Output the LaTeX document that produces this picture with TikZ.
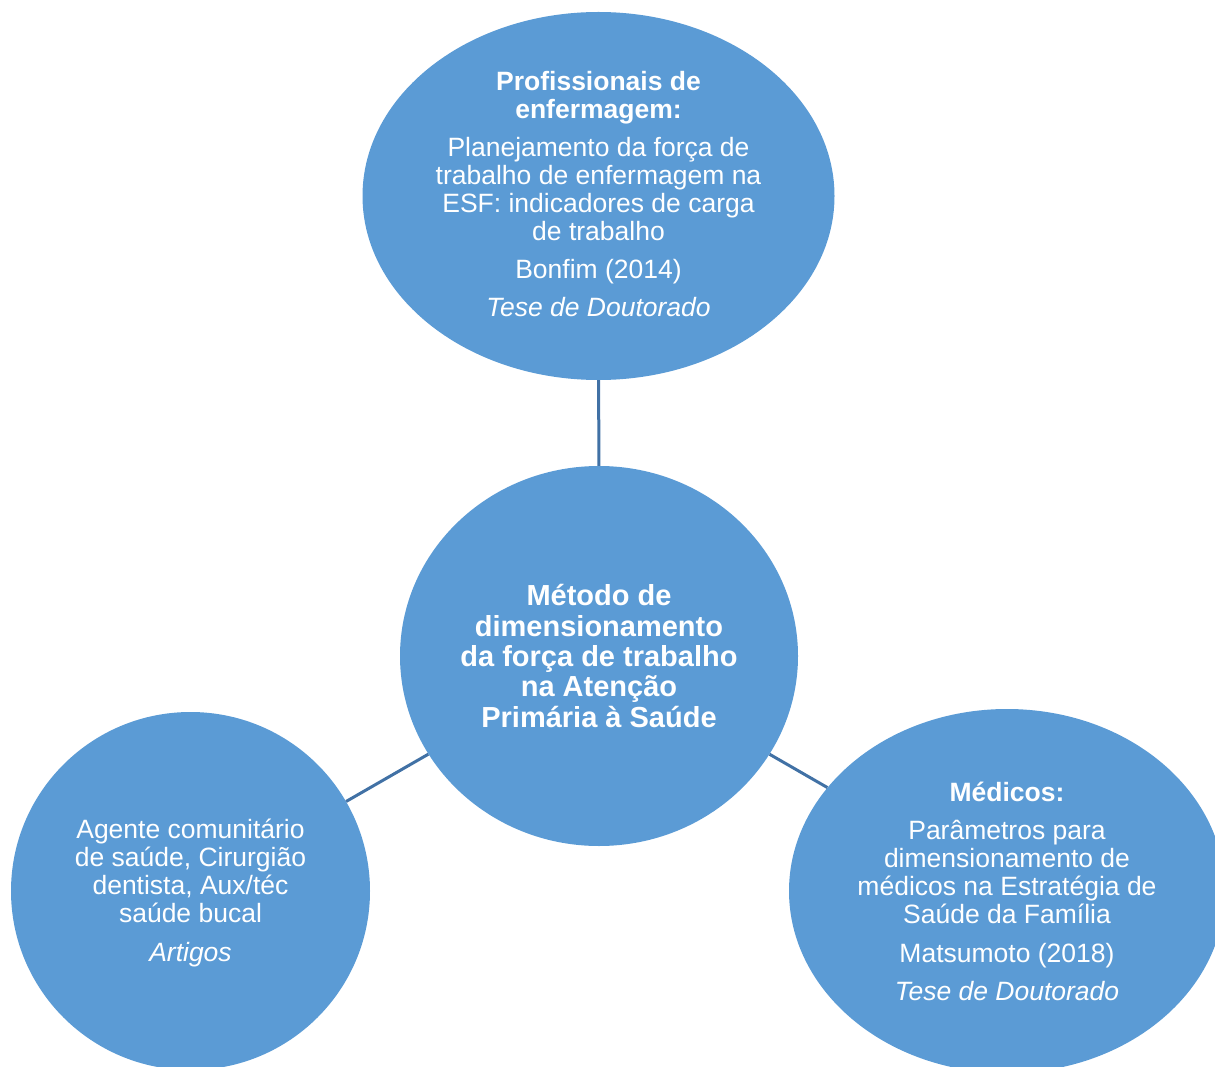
\documentclass[tikz,border=0pt]{standalone}
\usepackage{fontspec}
\setmainfont{Liberation Sans}
\usetikzlibrary{shapes.geometric}
\definecolor{fillblue}{HTML}{5B9BD5}
\definecolor{linkblue}{RGB}{65,113,165}
\begin{document}
\begin{tikzpicture}[x=1pt,y=-1pt,
  bubble/.style={ellipse, fill=fillblue, draw=none, inner sep=0pt, text=white, align=center, font=\fontsize{26.5}{28}\selectfont},
  hubtext/.style={font=\bfseries\fontsize{29}{30.4}\selectfont},
  link/.style={draw=linkblue, line width=3pt}]
\useasboundingbox (0,0) rectangle (1215,1067);

\node[bubble, minimum width=472pt, minimum height=368pt] (top) at (598.5,196) {};
\node[text=white, align=center, font=\fontsize{26.5}{28}\selectfont, inner sep=0pt] (toptext) at (598.5,194) {%
\textbf{Profissionais de}\\\textbf{enfermagem:}\\[10pt]
Planejamento da força de\\trabalho de enfermagem na\\ESF: indicadores de carga\\de trabalho\\[10pt]
Bonfim (2014)\\[10pt]
\textit{Tese de Doutorado}};

\node[bubble, hubtext, minimum width=398pt, minimum height=380pt] (hub) at (599,656) {%
Método de\\dimensionamento\\da força de trabalho\\na Atenção\\Primária à Saúde};

\node[bubble, minimum width=359pt, minimum height=358pt] (left) at (190.5,891) {};
\node[text=white, align=center, font=\fontsize{26.5}{28}\selectfont, inner sep=0pt] (lefttext) at (190.5,893) {%
Agente comunitário\\de saúde, Cirurgião\\dentista, Aux/téc\\saúde bucal\\[11pt]
\textit{Artigos}};

\node[bubble, minimum width=436pt, minimum height=364pt] (right) at (1007,891) {%
\textbf{Médicos:}\\[10pt]
Parâmetros para\\dimensionamento de\\médicos na Estratégia de\\Saúde da Família\\[11pt]
Matsumoto (2018)\\[10pt]
\textit{Tese de Doutorado}};

\draw[link] (top) -- (hub);
\draw[link] (left) -- (hub);
\draw[link] (hub) -- (right);
\end{tikzpicture}
\end{document}
